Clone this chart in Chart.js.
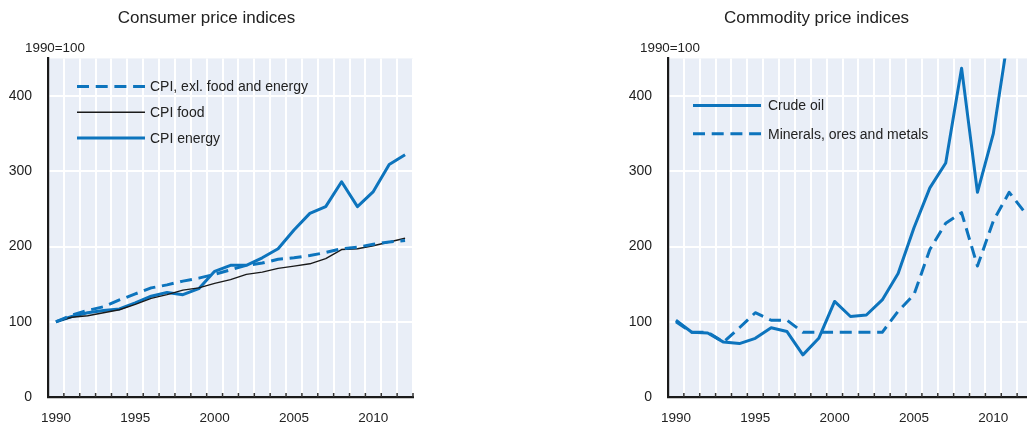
<!DOCTYPE html>
<html lang="en">
<head>
  <meta charset="UTF-8">
  <title>Consumer and commodity price indices</title>
  <script src="https://cdn.jsdelivr.net/npm/chart.js"></script>
  <style>
    html, body {
      margin: 0;
      padding: 0;
      background: #fff;
      overflow: hidden;
    }

    #wrap {
      position: relative;
      width: 1027px;
      height: 422px;
      overflow: hidden;
    }

    #cpiChart { position: absolute; left: 0; top: 0; }
    #comChart { position: absolute; left: 600px; top: 0; }
  </style>
</head>
<body>
  <div id="wrap">
    <canvas id="cpiChart" width="436" height="422"></canvas>
    <canvas id="comChart" width="475" height="422"></canvas>
  </div>

  <script>
    // years (categories), index 1990=100
    const years = ['1990', '1991', '1992', '1993', '1994', '1995', '1996', '1997', '1998', '1999', '2000',
      '2001', '2002', '2003', '2004', '2005', '2006', '2007', '2008', '2009', '2010', '2011', '2012'];

    // left panel: consumer price indices
    const cpiCore = [100, 109, 115, 120, 129, 137, 145, 149, 154, 158, 163, 169, 175, 178, 183, 185, 188, 192, 197, 199, 203, 206, 208];
    const cpiFood = [100, 106, 108, 112, 116, 123, 131, 136, 142, 145, 151, 156, 163, 166, 171, 174, 177, 184, 196, 197, 201, 206, 211];
    const cpiEnergy = [100, 107, 112, 115, 117, 125, 134, 139, 136, 144, 167, 175, 175, 185, 197, 222, 244, 253, 286, 253, 273, 309, 322];

    // right panel: commodity price indices
    const crudeOil = [102, 86, 85, 73, 71, 78, 92, 87, 56, 78, 127, 107, 109, 129, 164, 225, 278, 311, 437, 272, 350, 488, 490];
    const minerals = [100, 86, 86, 73, 92, 112, 102, 102, 86, 86, 86, 86, 86, 86, 114, 136, 196, 231, 245, 174, 234, 272, 245];

    const yTicks = [0, 100, 200, 300, 400];
    const xLabelYears = ['1990', '1995', '2000', '2005', '2010'];

    const FONT = '"Liberation Sans", Arial, sans-serif';
    const BLUE = '#0d74bd';
    const TXT = '#222';

    // fond du graphique
    const plotBg = {
      id: 'plotBg',
      beforeDraw(chart) {
        const a = chart.chartArea, ctx = chart.ctx;
        ctx.save();
        ctx.fillStyle = '#e9eef7';
        ctx.fillRect(a.left, a.top, a.right - a.left, a.bottom - a.top);
        ctx.restore();
      }
    };

    // petites graduations vers le haut sur l'axe x
    const xTickMarks = {
      id: 'xTickMarks',
      afterDraw(chart) {
        const x = chart.scales.x, ctx = chart.ctx;
        const cell = x.getPixelForValue(1) - x.getPixelForValue(0);
        ctx.save();
        ctx.strokeStyle = '#333';
        ctx.lineWidth = 1.5;
        ctx.beginPath();
        for (let i = 1; i <= years.length; i++) {
          const px = x.getPixelForValue(i) - cell / 2;
          if (px > chart.width) break;
          ctx.moveTo(px, x.top);
          ctx.lineTo(px, x.top - 4);
        }
        ctx.stroke();
        ctx.restore();
      }
    };

    // légende dans la zone du graphique + texte "1990=100"
    const inLegend = {
      id: 'inLegend',
      afterDraw(chart, args, opts) {
        const a = chart.chartArea, ctx = chart.ctx;
        ctx.save();
        ctx.font = '14px ' + FONT;
        ctx.textBaseline = 'middle';
        chart.data.datasets.forEach((ds, i) => {
          const y = a.top + opts.top + i * opts.gap;
          const x0 = a.left + opts.left;
          ctx.strokeStyle = ds.borderColor;
          ctx.lineWidth = ds.borderWidth;
          ctx.setLineDash(ds.borderDash || []);
          ctx.beginPath();
          ctx.moveTo(x0, y);
          ctx.lineTo(x0 + 68, y);
          ctx.stroke();
          ctx.setLineDash([]);
          ctx.fillStyle = TXT;
          ctx.fillText(ds.label, x0 + 68 + opts.textGap, y + 1);
        });
        ctx.font = '13.4px ' + FONT;
        ctx.fillText('1990=100', a.left - opts.unitOffset, 48);
        ctx.restore();
      }
    };

    function makeChart(id, title, datasets, axisWidth, padRight, legendOpts) {
      return new Chart(document.getElementById(id), {
        type: 'line',
        data: { labels: years, datasets: datasets },
        options: {
          responsive: false,
          animation: false,
          layout: { padding: { left: 0, right: padRight, top: 0, bottom: 0 } },
          elements: { point: { radius: 0 }, line: { tension: 0, borderJoinStyle: 'round' } },
          plugins: {
            legend: { display: false },
            tooltip: { enabled: false },
            title: {
              display: true,
              text: title,
              color: TXT,
              font: { family: FONT, size: 17, weight: 'normal' },
              padding: { top: 8, bottom: 30 }
            },
            inLegend: legendOpts
          },
          scales: {
            x: {
              type: 'category',
              offset: true,
              grid: { offset: true, color: '#fff', lineWidth: 2, drawTicks: false },
              border: { display: true, color: '#1a1a1a', width: 2.2 },
              ticks: {
                autoSkip: false,
                maxRotation: 0,
                padding: 13,
                color: TXT,
                font: { family: FONT, size: 13.5 },
                callback: function (v) {
                  const lab = this.getLabelForValue(v);
                  return xLabelYears.includes(lab) ? lab : '';
                }
              },
              afterFit: s => { s.height = 25; }
            },
            y: {
              min: 0,
              max: 450,
              afterBuildTicks: s => { s.ticks = yTicks.map(v => ({ value: v })); },
              grid: {
                color: c => c.tick && c.tick.value === 0 ? 'rgba(0,0,0,0)' : '#fff',
                lineWidth: 2,
                drawTicks: false
              },
              border: { display: true, color: '#1a1a1a', width: 2.2 },
              ticks: { padding: 16, color: TXT, font: { family: FONT, size: 14 } },
              afterFit: s => { s.width = axisWidth; }
            }
          }
        },
        plugins: [plotBg, xTickMarks, inLegend]
      });
    }

    makeChart('cpiChart', 'Consumer price indices', [
      { label: 'CPI, exl. food and energy', data: cpiCore, borderColor: BLUE, borderWidth: 3, borderDash: [12, 6.7], clip: 0 },
      { label: 'CPI food', data: cpiFood, borderColor: '#1a1a1a', borderWidth: 1.4, clip: 0 },
      { label: 'CPI energy', data: cpiEnergy, borderColor: BLUE, borderWidth: 3, clip: 0 }
    ], 48, 23, { left: 29, top: 28, gap: 25.8, textGap: 5, unitOffset: 23 });

    makeChart('comChart', 'Commodity price indices', [
      { label: 'Crude oil', data: crudeOil, borderColor: BLUE, borderWidth: 3, clip: 0 },
      { label: 'Minerals, ores and metals', data: minerals, borderColor: BLUE, borderWidth: 3, borderDash: [12, 6.7], clip: 0 }
    ], 68, 42, { left: 25, top: 47, gap: 28.3, textGap: 7, unitOffset: 28 });
  </script>
</body>
</html>
